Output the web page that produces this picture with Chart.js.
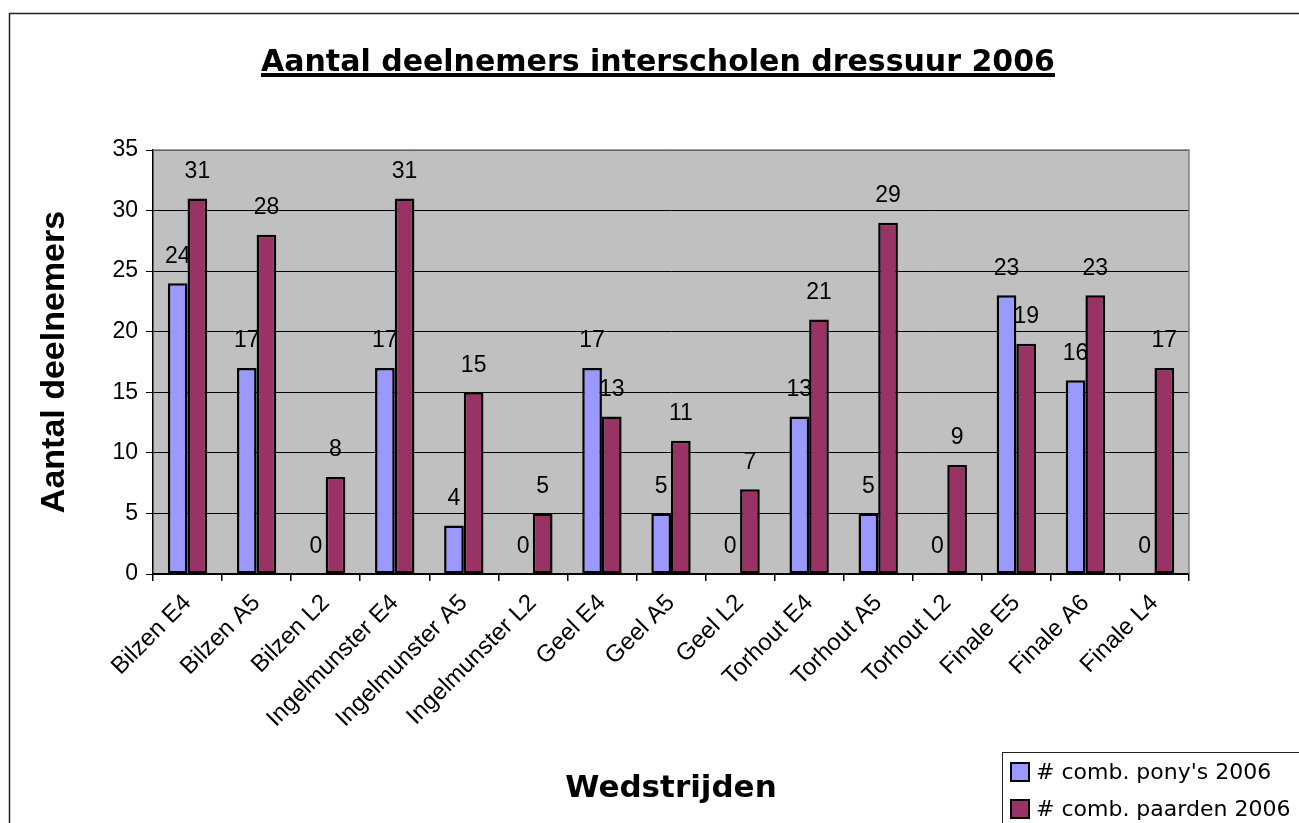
<!DOCTYPE html>
<html>
<head>
<meta charset="UTF-8">
<title>Aantal deelnemers interscholen dressuur 2006</title>
<script src="https://cdn.jsdelivr.net/npm/chart.js@4/dist/chart.umd.min.js"></script>
<style>
  html, body { margin: 0; padding: 0; background: #fff; overflow: hidden; }
  #holder { width: 1299px; height: 823px; }
</style>
</head>
<body>
<div id="holder"><canvas id="chart" width="1299" height="823"></canvas></div>
<script>
var categories = ['Bilzen E4', 'Bilzen A5', 'Bilzen L2', 'Ingelmunster E4', 'Ingelmunster A5',
  'Ingelmunster L2', 'Geel E4', 'Geel A5', 'Geel L2', 'Torhout E4', 'Torhout A5',
  'Torhout L2', 'Finale E5', 'Finale A6', 'Finale L4'];
var ponies = [24, 17, 0, 17, 4, 0, 17, 5, 0, 13, 5, 0, 23, 16, 0];
var paarden = [31, 28, 8, 31, 15, 5, 13, 11, 7, 21, 29, 9, 19, 23, 17];
var seriesNames = ["# comb. pony's 2006", '# comb. paarden 2006'];
var titleText = 'Aantal deelnemers interscholen dressuur 2006';
var yTitle = 'Aantal deelnemers';
var xTitle = 'Wedstrijden';

var sans = '"Liberation Sans", Arial, sans-serif';
var tahoma = '"DejaVu Sans", Tahoma, sans-serif';

// frame, plot background, title, axis titles, value labels, legend
var decor = {
  id: 'decor',
  beforeDraw: function(chart) {
    var ctx = chart.ctx, a = chart.chartArea;
    ctx.save();
    ctx.fillStyle = '#fff';
    ctx.fillRect(0, 0, chart.width, chart.height);
    ctx.strokeStyle = '#222';
    ctx.lineWidth = 1.5;
    ctx.strokeRect(9.5, 13.5, chart.width + 20, chart.height + 20);
    ctx.fillStyle = '#c0c0c0';
    ctx.fillRect(a.left, a.top, a.right - a.left, a.bottom - a.top);
    ctx.restore();
  },
  afterDraw: function(chart) {
    var ctx = chart.ctx, a = chart.chartArea;
    ctx.save();
    // plot border
    ctx.strokeStyle = '#808080';
    ctx.lineWidth = 1.5;
    ctx.beginPath();
    ctx.moveTo(a.left, a.top); ctx.lineTo(a.right, a.top); ctx.lineTo(a.right, a.bottom);
    ctx.stroke();

    // title
    ctx.fillStyle = '#000';
    ctx.font = 'bold 30px ' + tahoma;
    ctx.textAlign = 'center';
    ctx.textBaseline = 'alphabetic';
    ctx.fillText(titleText, 658, 71);
    var tw = ctx.measureText(titleText).width;
    ctx.fillRect(658 - tw / 2, 73, tw, 4);

    // axis titles
    ctx.font = 'bold 34px ' + sans;
    ctx.textBaseline = 'middle';
    ctx.save();
    ctx.translate(55, 362);
    ctx.rotate(-Math.PI / 2);
    ctx.fillText(yTitle, 0, 0);
    ctx.restore();
    ctx.font = 'bold 31px ' + tahoma;
    ctx.fillText(xTitle, 671, 789);

    // value labels
    ctx.font = '23px ' + sans;
    ctx.textBaseline = 'middle';
    chart.data.datasets.forEach(function(ds, i) {
      chart.getDatasetMeta(i).data.forEach(function(bar, j) {
        ctx.fillText(String(ds.data[j]), bar.x, bar.y - 27);
      });
    });

    // legend
    ctx.fillStyle = '#fff';
    ctx.fillRect(1002, 752, 320, 100);
    ctx.strokeStyle = '#222';
    ctx.lineWidth = 1;
    ctx.strokeRect(1002.5, 752.5, 320, 100);
    ctx.font = '22px ' + tahoma;
    ctx.textAlign = 'left';
    chart.data.datasets.forEach(function(ds, i) {
      var y = 763 + i * 37;
      ctx.fillStyle = ds.backgroundColor;
      ctx.fillRect(1011, y, 18, 18);
      ctx.strokeStyle = '#000';
      ctx.lineWidth = 2;
      ctx.strokeRect(1011, y, 18, 18);
      ctx.fillStyle = '#000';
      ctx.fillText(ds.label, 1036, y + 10);
    });
    ctx.restore();
  }
};

var config = {
  type: 'bar',
  data: {
    labels: categories,
    datasets: [{
      label: seriesNames[0],
      data: ponies,
      backgroundColor: '#9999ff',
      borderColor: '#000',
      borderWidth: 2.5,
      borderSkipped: false,
      categoryPercentage: 0.57,
      barPercentage: 1
    }, {
      label: seriesNames[1],
      data: paarden,
      backgroundColor: '#993366',
      borderColor: '#000',
      borderWidth: 2.5,
      borderSkipped: false,
      categoryPercentage: 0.57,
      barPercentage: 1
    }]
  },
  options: {
    responsive: false,
    animation: false,
    layout: { padding: { top: 150, right: 110, left: 0, bottom: 0 } },
    plugins: {
      legend: { display: false },
      title: { display: false },
      tooltip: { enabled: false }
    },
    scales: {
      x: {
        afterFit: function(s) { s.height = 249; },
        border: { color: '#000', width: 1.5 },
        grid: { display: true, drawOnChartArea: false, offset: true, color: '#000', tickLength: 7, lineWidth: 1.5 },
        ticks: {
          autoSkip: false, minRotation: 45, maxRotation: 45,
          color: '#000', font: { family: sans, size: 24 }, padding: 8
        }
      },
      y: {
        min: 0, max: 35,
        afterFit: function(s) { s.width = 153; },
        border: { color: '#000', width: 1.5 },
        grid: { color: '#000', lineWidth: 1, tickLength: 7 },
        ticks: { stepSize: 5, color: '#000', font: { family: sans, size: 23 }, padding: 8 }
      }
    }
  },
  plugins: [decor]
};

window.onload = function() {
  var ctx = document.getElementById('chart').getContext('2d');
  window.myBar = new Chart(ctx, config);
};
</script>
</body>
</html>
